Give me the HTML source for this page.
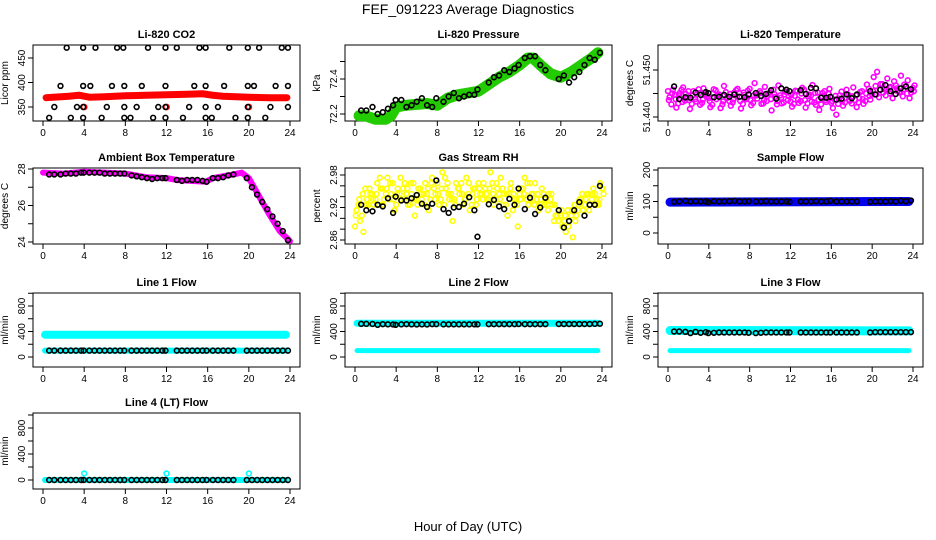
<!DOCTYPE html>
<html><head><meta charset="utf-8"><style>
html,body{margin:0;padding:0;background:#fff;}
svg{display:block;font-family:"Liberation Sans",sans-serif;}
</style></head><body>
<svg id="c" width="936" height="540" xmlns="http://www.w3.org/2000/svg">
<text x="468" y="14" text-anchor="middle" font-size="14">FEF_091223  Average Diagnostics</text>
<text x="468" y="531" text-anchor="middle" font-size="13">Hour of Day (UTC)</text>
</svg>
<script>
// ---------- data ----------
const xTicks = [0,4,8,12,16,20,24];
const blackT = [0.6,1.1,1.7,2.2,2.7,3.2,3.7,3.95,4.5,5.0,5.5,6.0,6.5,7.0,7.5,7.9,8.6,9.1,9.6,10.1,10.6,11.1,11.6,11.9,13.0,13.5,14.0,14.5,15.0,15.5,15.9,16.5,17.0,17.5,18.0,18.5,19.8,20.3,20.8,21.3,21.8,22.3,22.8,23.3,23.8];

const co2T = [2.3,3.9,5.1,7.2,7.8,10.2,11.9,13.0,15.2,15.8,18.1,19.9,21.0,23.2,23.8, 1.7,3.9,4.6,6.7,7.9,9.6,11.9,14.7,15.8,17.6,19.9,20.5,22.6,23.8, 1.1,3.3,3.9,6.2,7.9,9.1,11.2,11.9,14.2,15.8,17.0,19.9,22.1,23.8, 0.6,2.7,3.9,5.7,7.9,8.5,10.7,11.9,13.6,15.8,16.4,18.7,19.9,21.6,23.8];
const co2V = [471,471,471,471,471,471,471,471,471,471,471,471,471,471,471, 393,393,393,393,393,393,393,393,393,393,393,393,393,393, 350,350,350,350,350,350,350,350,350,350,350,350,350,350, 328,328,328,328,328,328,328,328,328,328,328,328,328,328];
const co2BandT = [0,1,2.5,3.5,4.5,6,8,10,12,14,15.5,16.5,17.5,20,22,24];
const co2BandV = [369,370,372,374,370,371,373,374,375,376,377,374,372,370,369,369];
const co2RedT = [4,12,20];
const co2RedV = [350,350,350];

const presBandT = [0,1,2,3,3.5,4,5,7,8,9,10,11,12,13,14,15,16,16.8,17.3,18,19,20,21,22,23,24];
const presBandV = [72.19,72.19,72.17,72.17,72.19,72.24,72.25,72.26,72.25,72.29,72.31,72.32,72.33,72.37,72.41,72.44,72.48,72.52,72.52,72.48,72.43,72.41,72.44,72.48,72.52,72.55];
const presV = [72.22,72.22,72.24,72.20,72.21,72.23,72.25,72.28,72.28,72.24,72.25,72.27,72.29,72.25,72.24,72.29,72.27,72.30,72.32,72.29,72.30,72.31,72.31,72.34,72.38,72.41,72.42,72.45,72.44,72.46,72.48,72.52,72.53,72.53,72.48,72.45,72.40,72.42,72.38,72.41,72.44,72.48,72.52,72.51,72.55];

const tempCloud = [51.4442,51.4458,51.4420,51.4451,51.4463,51.4440,51.4417,51.4455,51.4448,51.4426,51.4461,51.4444,51.4421,51.4459,51.4446,51.4419,51.4466,51.4441,51.4424,
51.4452,51.4460,51.4418,51.4447,51.4456,51.4425,51.4472,51.4449,51.4428,51.4464,51.4450,51.4414,51.4443,51.4467,51.4429,51.4454,51.4445,51.4422,
51.4456,51.4430,51.4462,51.4420,51.4448,51.4468,51.4426,51.4415,51.4451,51.4432,51.4460,51.4419,51.4405,51.4446,51.4424,51.4458,51.4434,51.4463,
51.4421,51.4453,51.4428,51.4469,51.4437,51.4485,51.4496,51.4470,51.4459,51.4482,51.4464,51.4476,51.4455,51.4488,51.4469,51.4478,51.4452,51.4467];
const tempCloud2 = [51.4455,51.4427,51.4447,51.4429,51.4458,51.4435,51.4455,51.4428,51.4438,51.4459,51.4430,51.4452,51.4440,51.4426,51.4457,51.4448,51.4427,51.4453,51.4434,
51.4431,51.4457,51.4451,51.4428,51.4438,51.4460,51.4430,51.4446,51.4455,51.4429,51.4434,51.4452,51.4458,51.4427,51.4446,51.4431,51.4453,51.4433,
51.4428,51.4455,51.4434,51.4458,51.4429,51.4446,51.4431,51.4452,51.4427,51.4455,51.4440,51.4430,51.4437,51.4428,51.4454,51.4431,51.4447,51.4429,
51.4436,51.4431,51.4455,51.4434,51.4460,51.4448,51.4466,51.4442,51.4470,51.4446,51.4463,51.4440,51.4467,51.4452,51.4444,51.4465,51.4440,51.4462];
const tempCloud3 = [51.4436,51.4450,51.4438,51.4446,51.4432,51.4449,51.4436,51.4446,51.4433,51.4451,51.4437,51.4448,51.4434,51.4450,51.4438,51.4446,51.4433,51.4440,51.4449,
51.4437,51.4444,51.4434,51.4452,51.4441,51.4436,51.4446,51.4439,51.4451,51.4436,51.4445,51.4438,51.4449,51.4434,51.4441,51.4448,51.4436,51.4447,
51.4445,51.4437,51.4450,51.4436,51.4444,51.4433,51.4451,51.4437,51.4444,51.4436,51.4449,51.4434,51.4445,51.4439,51.4435,51.4449,51.4437,51.4444,
51.4446,51.4440,51.4438,51.4450,51.4445,51.4455,51.4448,51.4458,51.4452,51.4459,51.4450,51.4457,51.4461,51.4454,51.4459,51.4450,51.4458,51.4455];
const tempV = [51.4465,51.4438,51.4442,51.4441,51.4452,51.4447,51.4453,51.4451,51.4442,51.4443,51.4447,51.4443,51.4448,51.4443,51.4442,51.4448,51.4451,51.4445,51.4449,51.4457,51.4439,51.4461,51.4458,51.4455,51.4457,51.4449,51.4462,51.4461,51.4441,51.4441,51.4443,51.4437,51.4439,51.4448,51.4440,51.4448,51.4455,51.4448,51.4458,51.4468,51.4455,51.4449,51.4461,51.4465,51.4459];

const ambBandT = [0,2,4,6,8,10,12,13,15.8,16.5,18,19.3,20,21,22,23,24];
const ambBandV = [27.8,27.75,27.85,27.8,27.75,27.55,27.5,27.4,27.3,27.5,27.65,27.8,27.5,26.5,25.5,24.6,24.05];
const ambV = [27.7,27.7,27.7,27.75,27.75,27.75,27.8,27.8,27.8,27.8,27.8,27.75,27.75,27.75,27.75,27.75,27.65,27.6,27.55,27.5,27.45,27.5,27.5,27.5,27.4,27.35,27.4,27.4,27.4,27.35,27.3,27.5,27.5,27.55,27.65,27.7,27.5,27.0,26.6,26.2,25.8,25.4,25.0,24.6,24.1];

const rhCloud = [2.915,2.895,2.875,2.935,2.945,2.925,2.965,2.955,2.935,2.975,2.945,2.915,2.955,2.935,2.965,2.925,2.945,2.905,2.955,
2.935,2.965,2.915,2.975,2.945,2.925,2.985,2.955,2.935,2.895,2.965,2.945,2.925,2.975,2.915,2.955,2.935,2.945,
2.965,2.935,2.985,2.925,2.955,2.975,2.945,2.905,2.965,2.935,2.885,2.955,2.975,2.925,2.945,2.965,2.915,2.955,
2.935,2.945,2.925,2.905,2.915,2.885,2.875,2.895,2.865,2.905,2.935,2.915,2.945,2.925,2.955,2.935,2.965,2.945];
const rhCloud2 = [2.885,2.925,2.905,2.955,2.925,2.945,2.935,2.925,2.955,2.945,2.935,2.965,2.925,2.945,2.955,2.945,2.925,2.965,2.935,
2.955,2.945,2.945,2.935,2.955,2.965,2.935,2.925,2.965,2.945,2.935,2.955,2.965,2.935,2.945,2.925,2.955,2.965,
2.945,2.955,2.935,2.965,2.935,2.945,2.955,2.925,2.945,2.915,2.935,2.945,2.955,2.935,2.965,2.945,2.935,2.925,
2.945,2.925,2.935,2.895,2.905,2.905,2.895,2.915,2.905,2.925,2.915,2.935,2.925,2.945,2.935,2.945,2.925,2.955];
const rhCloud3 = [2.905,2.935,2.945,2.925,2.955,2.935,2.945,2.975,2.925,2.955,2.965,2.935,2.945,2.975,2.935,2.955,2.965,2.935,2.925,
2.945,2.925,2.955,2.965,2.935,2.945,2.955,2.975,2.945,2.935,2.925,2.955,2.945,2.935,2.965,2.945,2.925,2.955,
2.935,2.945,2.955,2.945,2.965,2.935,2.925,2.945,2.955,2.945,2.925,2.935,2.945,2.965,2.935,2.925,2.945,2.935,
2.925,2.915,2.945,2.925,2.895,2.915,2.905,2.885,2.915,2.895,2.925,2.945,2.935,2.915,2.945,2.925,2.935,2.955];
const rhV = [2.925,2.915,2.913,2.925,2.922,2.937,2.910,2.940,2.933,2.933,2.937,2.943,2.927,2.921,2.927,2.970,2.917,2.910,2.920,2.921,2.927,2.939,2.915,2.866,2.926,2.934,2.922,2.917,2.936,2.925,2.955,2.917,2.938,2.908,2.920,2.938,2.915,2.883,2.895,2.915,2.930,2.905,2.925,2.925,2.960];

const sampBandT = [0,24];
const sampBandV = [98,100];
const sampV = [99,100,102,100,101,100,100,98,101,100,100,101,102,100,100,101,100,100,101,100,100,100,100,99,100,100,100,101,100,100,102,100,100,100,100,100,99,100,100,100,101,100,102,101,103];

const l1HiV = [350,350];  const l1LoV = [100,100];
const l1V = [100,100,100,100,100,100,100,100,100,100,100,100,100,100,100,100,100,100,100,100,100,100,100,100,100,100,100,100,100,100,100,100,100,100,100,100,100,100,100,100,100,100,100,100,100];
const l2HiV = [530,530];  const l2LoV = [100,100];
const l2V = [520,520,518,505,515,512,510,505,512,515,512,510,512,510,515,515,512,512,512,512,512,512,512,512,515,515,515,515,515,515,517,515,515,515,515,515,517,517,517,517,517,517,517,520,522];
const l3HiV = [415,410];  const l3LoV = [100,100];
const l3V = [400,400,395,375,395,380,390,375,380,385,385,385,385,385,385,380,375,380,385,385,385,385,385,385,385,385,385,385,385,385,385,385,385,385,385,385,385,390,390,390,390,390,390,390,390];
const l4BandV = [0,0];
const l4V = [0,0,0,0,0,0,0,0,0,0,0,0,0,0,0,0,0,0,0,0,0,0,0,0,0,0,0,0,0,0,0,0,0,0,0,0,0,0,0,0,0,0,0,0,0];
const l4SpikeT = [4,12,20];
const l4SpikeV = [100,100,100];
const flowBandT = [0.2,23.6];

// ---------- drawing ----------
const svg = document.getElementById('c');
const NS = 'http://www.w3.org/2000/svg';
function mk(tag, attrs, parent){ const e=document.createElementNS(NS,tag); for(const k in attrs) e.setAttribute(k,attrs[k]); (parent||svg).appendChild(e); return e; }
const cols = [[33,300],[345,612],[658,923]];
const rows = [[45,121],[168,244],[293,367],[413,489]];

function panel(name, col, row, a, pa, b, pb, ticks, labels, title, ylab){
  const [L,R] = cols[col], [T,B] = rows[row];
  const g = mk('g',{});
  
  
  const sx = h => (L+10) + h/24*((R-10)-(L+10));
  const sy = v => pa + (v-a)/(b-a)*(pb-pa);
  const t = mk('text',{x:(L+R)/2,y:T-7,'text-anchor':'middle','font-size':11,'font-weight':'bold'},g);
  t.textContent = title;
  
  
  const box = mk('rect',{x:L,y:T,width:R-L,height:B-T,fill:'none',stroke:'#000','stroke-width':1},g);
  
  
  xTicks.forEach(h=>{
    mk('line',{x1:sx(h),x2:sx(h),y1:B,y2:B+5,stroke:'#000'},g);
    const tx = mk('text',{x:sx(h),y:B+15,'text-anchor':'middle','font-size':10},g);
    tx.textContent = h;
    
    
  });
  ticks.forEach(v=>{
    mk('line',{x1:L-5,x2:L,y1:sy(v),y2:sy(v),stroke:'#000'},g);
  });
  labels.forEach(v=>{
    const ty = mk('text',{x:0,y:0,'text-anchor':'middle','font-size':10,transform:`translate(${L-8},${sy(v)}) rotate(-90)`},g);
    ty.textContent = v;
    
    
  });
  const yl = mk('text',{x:0,y:0,'text-anchor':'middle','font-size':10,transform:`translate(${L-25},${(T+B)/2}) rotate(-90)`},g);
  yl.textContent = ylab;
  
  
  const clip = mk('g',{},g);
  return {g:clip, sx, sy};
}
function band(p, ts, vs, color, w, nm){
  const pts = ts.map((t,i)=>p.sx(t)+','+p.sy(vs[i])).join(' ');
  const pl = mk('polyline',{points:pts,fill:'none',stroke:color,'stroke-width':w,'stroke-linecap':'round','stroke-linejoin':'round'},p.g);
  
  
}
function pts(p, ts, vs, color, nm, r){
  const n = Math.min(ts.length, vs.length);
  for(let i=0;i<n;i++){
    const c = mk('circle',{cx:p.sx(ts[i]),cy:p.sy(vs[i]),r:r||2.4,fill:'none',stroke:color,'stroke-width':1.6},p.g);
    
    
  }
}
const cloudT = tempCloud.map((_,i)=>i/3);

// CO2
let p = panel('co2',0,0,450,58,350,107,[350,400,450],[350,400,450],'Li-820 CO2','Licor ppm');
band(p, [0.3,1,2.5,3.5,4.5,6,8,10,12,14,15.5,16.5,17.5,20,22,23.7], co2BandV, '#ff0000', 7, 'co2-band');
pts(p, co2RedT, co2RedV, '#ff0000', 'co2-red-point', 2.6);
pts(p, co2T, co2V, '#000', 'co2-point');
// Pressure
p = panel('pressure',1,0,72.2,114,72.4,79,[72.2,72.3,72.4,72.5],[72.2,72.4],'Li-820 Pressure','kPa');
band(p, presBandT.map(t=>Math.min(Math.max(t,0.4),23.6)), presBandV, '#22cc00', 11, 'pressure-band');
pts(p, blackT, presV, '#000', 'pressure-point');
// Temperature
p = panel('li-temp',2,0,51.44,117,51.45,70,[51.44,51.445,51.45],['51.440','51.450'],'Li-820 Temperature','degrees C');
pts(p, cloudT, tempCloud2, '#ff00ff', 'li-temp-cloud-point');
pts(p, cloudT.map(t=>t+0.15), tempCloud, '#ff00ff', 'li-temp-cloud-point');
pts(p, cloudT.map(t=>t+0.08), tempCloud3, '#ff00ff', 'li-temp-cloud-point');
pts(p, blackT, tempV, '#000', 'li-temp-point');
// Ambient
p = panel('ambient',0,1,28,169,24,242,[24,25,26,27,28],[24,26,28],'Ambient Box Temperature','degrees C');
band(p, ambBandT, ambBandV, '#ff00ff', 6, 'ambient-band');
pts(p, blackT, ambV, '#000', 'ambient-point');
// RH
p = panel('rh',1,1,2.98,175,2.86,240,[2.86,2.88,2.9,2.92,2.94,2.96,2.98],[2.86,2.92,2.98],'Gas Stream RH','percent');
pts(p, cloudT, rhCloud2, '#ffff00', 'rh-cloud-point');
pts(p, cloudT.map(t=>t+0.15), rhCloud, '#ffff00', 'rh-cloud-point');
pts(p, cloudT.map(t=>t+0.08), rhCloud3, '#ffff00', 'rh-cloud-point');
pts(p, blackT, rhV, '#000', 'rh-point');
// Sample flow
p = panel('sample-flow',2,1,200,170,0,233,[0,50,100,150,200],[0,100,200],'Sample Flow','ml/min');
band(p, [0.2,23.6], sampBandV, '#0000ee', 9, 'sample-flow-band');
pts(p, blackT, sampV, '#000', 'sample-flow-point');
// Line flows
const fT = [0,200,400,600,800,1000], fL = [0,400,800];
p = panel('line1-flow',0,2,0,357,800,306,fT,fL,'Line 1 Flow','ml/min');
band(p, flowBandT, l1HiV, '#00ffff', 8, 'line1-high-band');
band(p, flowBandT, l1LoV, '#00ffff', 6, 'line1-low-band');
pts(p, blackT, l1V, '#000', 'line1-point');
p = panel('line2-flow',1,2,0,357,800,306,fT,fL,'Line 2 Flow','ml/min');
band(p, flowBandT, l2HiV, '#00ffff', 7, 'line2-high-band');
band(p, flowBandT, l2LoV, '#00ffff', 5, 'line2-low-band');
pts(p, blackT, l2V, '#000', 'line2-point');
p = panel('line3-flow',2,2,0,357,800,306,fT,fL,'Line 3 Flow','ml/min');
band(p, flowBandT, l3HiV, '#00ffff', 9, 'line3-high-band');
band(p, flowBandT, l3LoV, '#00ffff', 5, 'line3-low-band');
pts(p, blackT, l3V, '#000', 'line3-point');
p = panel('line4-flow',0,3,0,480,800,428,fT,fL,'Line 4 (LT) Flow','ml/min');
band(p, flowBandT, l4BandV, '#00ffff', 6, 'line4-band');
pts(p, l4SpikeT, l4SpikeV, '#00ffff', 'line4-spike-point');
pts(p, blackT, l4V, '#000', 'line4-point');
</script>
</body></html>
